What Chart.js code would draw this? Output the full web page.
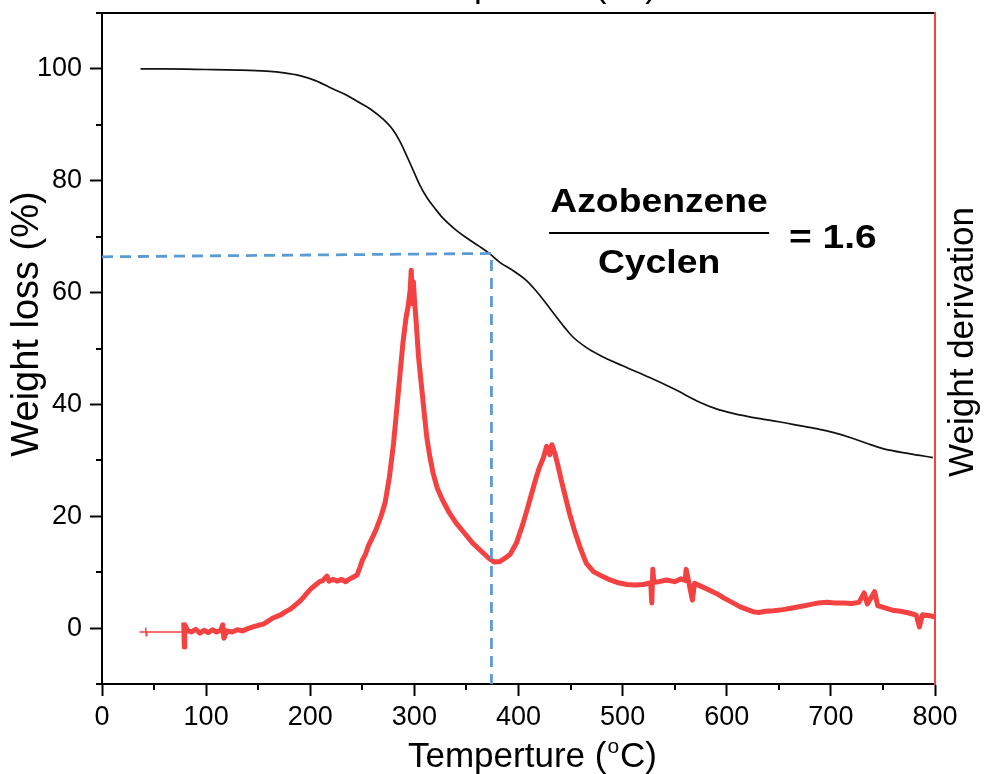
<!DOCTYPE html>
<html lang="en">
<head>
    <meta charset="UTF-8">
    <title>TGA - Azobenzene / Cyclen</title>
    <script src="https://cdn.jsdelivr.net/npm/chart.js"></script>
    <style>
        html, body { margin: 0; padding: 0; background: #fff; }
        #tgaChart { display: block; }
    </style>
</head>
<body>
    <canvas id="tgaChart" width="987" height="774"></canvas>

    <script>
        // TGA curve (weight %, left axis)
        const tgaTemp = [37, 60, 100, 130, 158, 175, 190, 205, 222, 235, 245, 258, 270, 279, 286, 293, 299, 305, 312, 320,
            327, 338, 350, 362, 372, 382, 395, 408, 414, 420, 430, 437, 445, 452, 465, 478, 500, 526, 550, 574,
            590, 606, 630, 650, 670, 690, 702, 720, 735, 750, 775, 798];
        const tgaWeight = [100, 100, 99.9, 99.8, 99.6, 99.3, 98.8, 97.9, 96.4, 95.3, 94.2, 92.8, 91, 89.2, 87.1, 84.3, 81.8, 79.3, 77, 75,
            73.4, 71.5, 69.8, 68.3, 67, 65.4, 63.9, 62.1, 60.9, 59.6, 57.2, 55.5, 53.6, 52.1, 50.2, 48.8, 46.9, 44.8, 42.7, 40.4,
            39.2, 38.4, 37.5, 36.9, 36.2, 35.5, 35, 34, 33, 32.1, 31.2, 30.5];

        // DTG curve (right axis, no scale shown): thin lead-in, then the noisy trace
        const dtgLeadTemp = [36, 41.5, 42, 42.5, 43, 78];
        const dtgLeadValue = [-0.7, -0.7, 0.1, -1.4, -0.7, -0.7];
        const dtgTemp = [78.5, 79, 79.5, 82, 86, 90, 94, 98, 102, 106, 110, 114, 116, 117, 120, 125, 130, 135, 140, 145,
            150, 155, 160, 164, 168, 172, 176, 180, 185, 190, 194, 197, 201, 205, 209, 212, 216, 218, 222, 226,
            230, 234, 238, 241, 245, 248, 250, 253, 256, 260, 264, 268, 272, 276, 280, 283, 286, 289, 292, 294,
            296, 297, 298, 299, 300, 302, 304, 307, 310, 312, 315, 318, 322, 327, 333, 340, 348, 356, 365, 372,
            377, 382, 387, 392, 398, 404, 408, 411, 416, 420, 424, 427, 430, 432, 435, 438, 441, 445, 449, 454,
            459, 465, 472, 480, 488, 496, 504, 512, 520, 527, 528, 529, 530, 535, 542, 550, 556, 560, 561, 563,
            567, 569, 575, 583, 590, 597, 606, 613, 620, 626, 631, 637, 645, 654, 663, 672, 680, 688, 696, 704,
            712, 720, 727, 732, 735, 742, 745, 752, 759, 767, 775, 782, 785, 788, 795, 800];
        const dtgValue = [1.0, -3.4, 0.6, -0.4, -0.7, -0.2, -0.9, -0.4, -0.8, -0.3, -0.7, -0.4, 0.6, -1.8, -0.5, -0.7, -0.3, -0.5, -0.1, 0.2,
            0.5, 0.7, 1.3, 1.8, 2.1, 2.4, 2.9, 3.3, 4.0, 4.8, 5.6, 6.3, 7.1, 7.7, 8.3, 8.5, 9.3, 8.4, 8.7, 8.4,
            8.7, 8.3, 8.8, 9.1, 9.5, 11.0, 12.1, 13.2, 14.8, 16.3, 18.0, 20.0, 22.5, 27, 33, 39, 45, 51, 55.5, 57.5,
            60.5, 64, 58, 62, 59, 54, 48.5, 43, 37.5, 34, 30.5, 27.7, 25.0, 22.9, 20.8, 18.8, 17.0, 15.2, 13.6, 12.4,
            11.8, 11.9, 12.5, 13.2, 15.2, 18.5, 21, 23, 26.3, 28.7, 30.5, 32.5, 31.0, 32.8, 31.2, 29, 26.5, 23.5, 20.5, 17.3,
            14.5, 11.6, 10.1, 9.3, 8.6, 8.1, 7.8, 7.7, 7.8, 8.1, 4.5, 10.5, 8.2, 8.3, 8.6, 8.3, 8.8, 8.5, 10.5, 8.7,
            5.0, 8.0, 7.5, 6.8, 6.2, 5.4, 4.5, 3.8, 3.3, 2.9, 2.8, 3.0, 3.1, 3.3, 3.6, 3.9, 4.2, 4.5, 4.6, 4.5,
            4.5, 4.4, 4.6, 6.3, 4.3, 6.5, 4.0, 3.6, 3.2, 3.0, 2.7, 2.3, 0.2, 2.4, 2.2, 2.0];

        // dashed guide: weight at 2/3 and its temperature
        const guideTemp = [0, 374, 374];
        const guideWeight = [66.4, 67, -10];

        const xTicks = [0, 100, 200, 300, 400, 500, 600, 700, 800];
        const xMinorTicks = [50, 150, 250, 350, 450, 550, 650, 750];
        const yTicks = [0, 20, 40, 60, 80, 100];
        const yMinorTicks = [-10, 10, 30, 50, 70, 90, 110];

        const FONT = '"Liberation Sans", Arial, sans-serif';
        const RED = '#f44141';

        function toPoints(xs, ys) {
            return xs.map((x, i) => ({ x: x, y: ys[i] }));
        }

        function drawTempTitle(ctx, left, baseline, size) {
            ctx.textAlign = 'left';
            ctx.textBaseline = 'alphabetic';
            ctx.font = size + 'px ' + FONT;
            ctx.fillText('Temperture (', left, baseline);
            let w = ctx.measureText('Temperture (').width;
            ctx.font = Math.round(size * 0.6) + 'px ' + FONT;
            ctx.fillText('o', left + w + 1, baseline - size * 0.4);
            w += ctx.measureText('o').width + 2;
            ctx.font = size + 'px ' + FONT;
            ctx.fillText('C)', left + w, baseline);
        }

        // minor ticks, axis titles and the ratio label
        const decorations = {
            id: 'decorations',
            afterDraw(chart) {
                const { ctx, chartArea: area, scales } = chart;
                ctx.save();
                ctx.strokeStyle = '#000';
                ctx.lineWidth = 2;
                ctx.beginPath();
                xMinorTicks.forEach(v => {
                    const px = Math.round(scales.x.getPixelForValue(v));
                    ctx.moveTo(px, area.bottom);
                    ctx.lineTo(px, area.bottom + 6);
                });
                yMinorTicks.forEach(v => {
                    const py = Math.round(scales.y.getPixelForValue(v));
                    ctx.moveTo(area.left - 6, py);
                    ctx.lineTo(area.left, py);
                });
                ctx.stroke();

                ctx.fillStyle = '#000';
                drawTempTitle(ctx, area.left + 306, 767, 35);
                // mirrored top title, mostly outside the picture
                drawTempTitle(ctx, area.left + 306, -3, 35);

                ctx.textAlign = 'center';
                ctx.textBaseline = 'middle';
                ctx.font = '38px ' + FONT;
                ctx.save();
                ctx.translate(28, 324);
                ctx.rotate(-Math.PI / 2);
                ctx.fillText('Weight loss (%)', 0, 0);
                ctx.restore();

                ctx.font = '35px ' + FONT;
                ctx.save();
                ctx.translate(963, 342);
                ctx.rotate(-Math.PI / 2);
                ctx.fillText('Weight derivation', 0, 0);
                ctx.restore();

                // Azobenzene / Cyclen = 1.6
                const cx = scales.x.getPixelForValue(535);
                ctx.font = 'bold 33px ' + FONT;
                ctx.textBaseline = 'alphabetic';
                ctx.save();
                ctx.translate(cx, 0);
                ctx.scale(1.13, 1);
                ctx.fillText('Azobenzene', 0, 212);
                ctx.fillText('Cyclen', 0, 273);
                ctx.restore();
                ctx.lineWidth = 2;
                ctx.beginPath();
                ctx.moveTo(cx - 110, 233);
                ctx.lineTo(cx + 110, 233);
                ctx.stroke();
                ctx.save();
                ctx.translate(789, 0);
                ctx.scale(1.18, 1);
                ctx.textAlign = 'left';
                ctx.fillText('= 1.6', 0, 248);
                ctx.restore();

                ctx.restore();
            }
        };

        const tickFont = { family: FONT, size: 27 };

        new Chart(document.getElementById('tgaChart'), {
            type: 'line',
            data: {
                datasets: [
                    {
                        data: toPoints(guideTemp, guideWeight),
                        borderColor: '#5b9bd5',
                        borderWidth: 2.8,
                        borderDash: [11, 7],
                        pointRadius: 0,
                        yAxisID: 'y'
                    },
                    {
                        data: toPoints(tgaTemp, tgaWeight),
                        borderColor: '#111',
                        borderWidth: 1.7,
                        pointRadius: 0,
                        cubicInterpolationMode: 'monotone',
                        yAxisID: 'y'
                    },
                    {
                        data: toPoints(dtgLeadTemp, dtgLeadValue),
                        borderColor: RED,
                        borderWidth: 1.4,
                        pointRadius: 0,
                        yAxisID: 'y2'
                    },
                    {
                        data: toPoints(dtgTemp, dtgValue),
                        borderColor: RED,
                        borderWidth: 5,
                        borderJoinStyle: 'round',
                        pointRadius: 0,
                        yAxisID: 'y2'
                    }
                ]
            },
            options: {
                responsive: false,
                animation: false,
                devicePixelRatio: 1,
                layout: { padding: 0 },
                plugins: {
                    legend: { display: false },
                    tooltip: { enabled: false }
                },
                scales: {
                    x: {
                        type: 'linear',
                        position: 'bottom',
                        min: 0,
                        max: 800,
                        afterBuildTicks: s => { s.ticks = xTicks.map(v => ({ value: v })); },
                        afterFit: s => { s.height = 90; s.paddingLeft = 0; s.paddingRight = 0; },
                        ticks: { font: tickFont, color: '#000', padding: 5, maxRotation: 0 },
                        grid: { drawOnChartArea: false, tickLength: 12, tickWidth: 2, tickColor: '#000' },
                        border: { color: '#000', width: 2 }
                    },
                    x2: {
                        type: 'linear',
                        position: 'top',
                        min: 0,
                        max: 800,
                        afterFit: s => { s.height = 13; s.paddingLeft = 0; s.paddingRight = 0; },
                        ticks: { display: false },
                        grid: { display: false },
                        border: { color: '#000', width: 2 }
                    },
                    y: {
                        type: 'linear',
                        position: 'left',
                        min: -10,
                        max: 110,
                        afterBuildTicks: s => { s.ticks = yTicks.map(v => ({ value: v })); },
                        afterFit: s => { s.width = 102; s.paddingTop = 0; s.paddingBottom = 0; },
                        ticks: { font: tickFont, color: '#000', padding: 8 },
                        grid: { drawOnChartArea: false, tickLength: 12, tickWidth: 2, tickColor: '#000' },
                        border: { color: '#000', width: 2 }
                    },
                    y2: {
                        type: 'linear',
                        position: 'right',
                        min: -10,
                        max: 110,
                        afterFit: s => { s.width = 52; s.paddingTop = 0; s.paddingBottom = 0; },
                        ticks: { display: false },
                        grid: { display: false },
                        border: { color: RED, width: 2 }
                    }
                }
            },
            plugins: [decorations]
        });
    </script>
</body>
</html>
